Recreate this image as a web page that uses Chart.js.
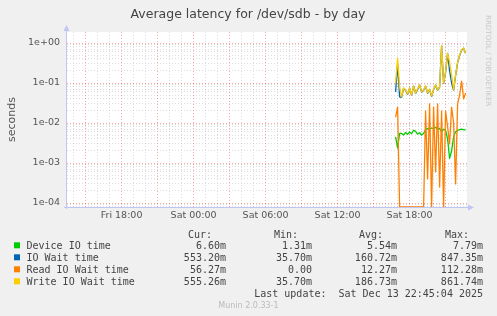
<!DOCTYPE html>
<html><head><meta charset="utf-8">
<script src="https://cdn.jsdelivr.net/npm/chart.js@4.4.1/dist/chart.umd.min.js"></script>
<style>html,body{margin:0;padding:0;background:#f0f0f0;} canvas{display:block;}</style>
</head><body>
<canvas id="c" width="497" height="316"></canvas>
<script>
// ---- data (Saturday times, 10-minute samples) ----
const times = ['16:50','17:00','17:10','17:20','17:30','17:40','17:50','18:00','18:10','18:20','18:30','18:40',
               '18:50','19:00','19:10','19:20','19:30','19:40','19:50','20:00','20:10','20:20','20:30','20:40',
               '20:50','21:00','21:10','21:20','21:30','21:40','21:50','22:00','22:10','22:20','22:30','22:40'];
const deviceIO = [0.0045,0.0024,0.0055,0.0055,0.0050,0.0058,0.0052,0.0060,0.0054,0.0066,0.0062,0.0053,
                  0.0057,0.0050,0.0055,0.0068,0.0072,0.0070,0.0075,0.0072,0.0078,0.0070,0.0073,0.0060,
                  0.0070,0.0065,0.0040,0.0013,0.0020,0.0045,0.0060,0.0065,0.0068,0.0070,0.0068,0.0066];
const ioWait = [0.060,0.300,0.045,0.044,0.073,0.066,0.052,0.074,0.049,0.084,0.055,0.069,
                0.089,0.059,0.066,0.083,0.055,0.069,0.046,0.069,0.088,0.066,0.079,0.847,
                0.098,0.185,0.550,0.200,0.100,0.066,0.155,0.320,0.490,0.660,0.740,0.5532];
const readIOWait = [0.014,0.025,0,0,0,0,0,0,0,0,0,0,
                    0,0,0,0.020,0.0004,0.030,0,0.025,0.0006,0.030,0.00025,0.020,
                    0,0.020,0.008,0.003,0.025,0.010,0.0003,0.030,0.050,0.112,0.040,0.05627];
const writeIOWait = [0.100,0.420,0.080,0.045,0.075,0.067,0.053,0.075,0.050,0.085,0.056,0.070,
                     0.090,0.060,0.067,0.085,0.056,0.070,0.047,0.070,0.090,0.067,0.080,0.860,
                     0.100,0.190,0.560,0.330,0.160,0.067,0.160,0.330,0.500,0.670,0.750,0.5553];
const seriesNames = ['Device IO time','IO Wait time','Read IO Wait time','Write IO Wait time'];
const seriesColors = ['#00cc00','#0066b3','#ff8000','#ffcc00'];
const legendCur = ['6.60m','553.20m','56.27m','555.26m'];
const legendMin = ['1.31m','35.70m','0.00','35.70m'];
const legendAvg = ['5.54m','160.72m','12.27m','186.73m'];
const legendMax = ['7.79m','847.35m','112.28m','861.74m'];
const xTickHours = [18,24,30,36,42];
const xTickLabels = ['Fri 18:00','Sat 00:00','Sat 06:00','Sat 12:00','Sat 18:00'];
const yTickValues = [1e-4,1e-3,1e-2,1e-1,1];
const yTickLabels = ['1e-04','1e-03','1e-02','1e-01','1e+00'];
const titleText = 'Average latency for /dev/sdb - by day';
const yAxisTitle = 'seconds';
const lastUpdate = 'Last update:  Sat Dec 13 22:45:04 2025';
const footerText = 'Munin 2.0.33-1';
const sideText = 'RRDTOOL / TOBI OETIKER';

// ---- helpers ----
const hoursOf = t => { const [h, m] = t.split(':').map(Number); return 24 + h + m / 60; };
const X_MIN = 13.45, X_MAX = 13.45 + 400 / 12;
const Y_MIN = Math.pow(10, -4.1), Y_MAX = Math.pow(10, 0.275);
const pts = arr => arr.map((v, i) => ({x: hoursOf(times[i]), y: v}));

const yGridValues = [];
for (let e = -5; e <= 0; e++) for (let m = 1; m <= 9; m++) {
  const v = m * Math.pow(10, e);
  if (v >= Y_MIN && v <= Y_MAX) yGridValues.push(v);
}
const isDecade = v => Math.abs(Math.log10(v) - Math.round(Math.log10(v))) < 1e-9;
const MAJOR = 'rgba(255,0,0,0.35)', MINOR = 'rgba(128,128,128,0.26)';

const series = [deviceIO, ioWait, readIOWait, writeIOWait];
const datasets = series.map((arr, i) => ({
  label: seriesNames[i], data: pts(arr), borderColor: seriesColors[i], backgroundColor: seriesColors[i],
  borderWidth: 1.3, pointRadius: 0, tension: 0, fill: false, order: 3 - i
}));

const bgPlugin = {
  id: 'bg',
  beforeDraw(chart) {
    const {ctx, chartArea: a} = chart;
    ctx.save(); ctx.fillStyle = '#ffffff';
    ctx.fillRect(a.left, a.top, a.right - a.left, a.bottom - a.top);
    ctx.restore();
  }
};

const decoPlugin = {
  id: 'deco',
  afterDraw(chart) {
    const {ctx, chartArea: a} = chart;
    ctx.save();
    // axes
    ctx.strokeStyle = '#c0c6f4'; ctx.fillStyle = '#c0c6f4'; ctx.lineWidth = 1;
    ctx.beginPath(); ctx.moveTo(a.left - 0.5, a.bottom + 2); ctx.lineTo(a.left - 0.5, a.top - 3); ctx.stroke();
    ctx.beginPath(); ctx.moveTo(a.left - 3, a.bottom + 0.5); ctx.lineTo(a.right + 3, a.bottom + 0.5); ctx.stroke();
    ctx.beginPath(); ctx.moveTo(a.left - 0.5, a.top - 7); ctx.lineTo(a.left - 3.5, a.top - 1); ctx.lineTo(a.left + 2.5, a.top - 1); ctx.closePath(); ctx.fill();
    ctx.beginPath(); ctx.moveTo(a.right + 7, a.bottom + 0.5); ctx.lineTo(a.right + 1, a.bottom - 2.5); ctx.lineTo(a.right + 1, a.bottom + 3.5); ctx.closePath(); ctx.fill();

    // title
    ctx.fillStyle = '#444'; ctx.textAlign = 'center'; ctx.textBaseline = 'alphabetic';
    ctx.font = '12.5px "DejaVu Sans"';
    ctx.fillText(titleText, 248, 18);
    // y axis title
    ctx.save(); ctx.translate(15, (a.top + a.bottom) / 2); ctx.rotate(-Math.PI / 2);
    ctx.font = '11px "DejaVu Sans"'; ctx.fillStyle = '#555'; ctx.textBaseline = 'alphabetic';
    ctx.fillText(yAxisTitle, 0, 0); ctx.restore();
    // side text
    ctx.save(); ctx.translate(486, 15); ctx.rotate(Math.PI / 2);
    ctx.font = '7.1px "DejaVu Sans"'; ctx.fillStyle = '#c8c8c8'; ctx.textAlign = 'left'; ctx.textBaseline = 'alphabetic';
    ctx.fillText(sideText, 0, 0); ctx.restore();

    // legend
    ctx.font = '10px "DejaVu Sans Mono"'; ctx.fillStyle = '#444';
    ctx.textAlign = 'right';
    ['Cur:', 'Min:', 'Avg:', 'Max:'].forEach((h, j) => ctx.fillText(h, [212, 298, 383, 469][j], 237.5));
    seriesNames.forEach((n, i) => {
      const yb = 249.3 + 12 * i;
      ctx.fillStyle = seriesColors[i]; ctx.fillRect(14, yb - 7, 6, 6);
      ctx.fillStyle = '#444'; ctx.textAlign = 'left'; ctx.fillText(n, 26.5, yb);
      ctx.textAlign = 'right';
      ctx.fillText(legendCur[i], 226, yb);
      ctx.fillText(legendMin[i], 312, yb);
      ctx.fillText(legendAvg[i], 397, yb);
      ctx.fillText(legendMax[i], 483, yb);
    });
    ctx.fillText(lastUpdate, 483, 297.3);
    ctx.font = '8px "DejaVu Sans"'; ctx.fillStyle = '#bbbbbb'; ctx.textAlign = 'center';
    ctx.fillText(footerText, 248.5, 308.3);
    ctx.restore();
  }
};

new Chart(document.getElementById('c'), {
  type: 'line',
  data: {datasets},
  options: {
    responsive: false, animation: false, devicePixelRatio: 1, parsing: false,
    layout: {padding: {top: 32, right: 30, left: 0, bottom: 0}},
    plugins: {legend: {display: false}, title: {display: false}, tooltip: {enabled: false}},
    elements: {line: {borderJoinStyle: 'round'}},
    scales: {
      x: {
        type: 'linear', min: X_MIN, max: X_MAX,
        afterBuildTicks: s => { const t = []; for (let h = Math.ceil(X_MIN); h <= X_MAX; h++) t.push({value: h}); s.ticks = t; },
        afterFit: s => { s.height = 109; },
        grid: {drawTicks: false, lineWidth: 1, color: c => (c.tick && c.tick.value % 3 === 0) ? MAJOR : MINOR},
        border: {display: false, dash: [1, 2]},
        ticks: {autoSkip: false, maxRotation: 0, padding: 3, color: '#555', font: {family: 'DejaVu Sans', size: 9.5},
          callback: v => { const k = xTickHours.indexOf(v); return k >= 0 ? xTickLabels[k] : ''; }}
      },
      y: {
        type: 'logarithmic', min: Y_MIN, max: Y_MAX,
        afterBuildTicks: s => { s.ticks = yGridValues.map(v => ({value: v})); },
        afterFit: s => { s.width = 67; },
        grid: {drawTicks: false, lineWidth: 1, color: c => (c.tick && isDecade(c.tick.value)) ? MAJOR : MINOR},
        border: {display: false, dash: [1, 2]},
        ticks: {autoSkip: false, padding: 7, color: '#555', font: {family: 'DejaVu Sans', size: 9.5},
          callback: v => { const k = yTickValues.findIndex(t => Math.abs(t - v) / t < 1e-6); return k >= 0 ? yTickLabels[k] : ''; }}
      }
    }
  },
  plugins: [bgPlugin, decoPlugin]
});
</script>
</body></html>
